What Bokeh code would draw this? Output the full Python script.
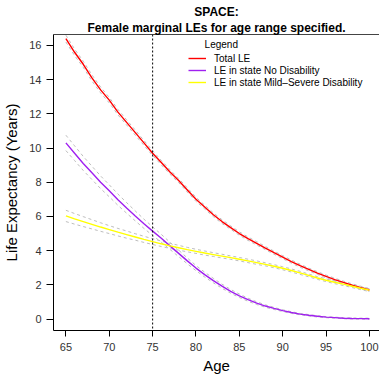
from bokeh.plotting import figure
from bokeh.models import (Range1d, FixedTicker, Span, Legend, LegendItem, Label,
                          Title, LinearAxis)
from bokeh.embed import file_html
from bokeh.resources import INLINE

ages = list(range(65, 101))

total_le = [16.4, 15.6, 14.9, 14.1, 13.4, 12.8, 12.1, 11.5, 10.9, 10.3,
            9.7, 9.15, 8.6, 8.1, 7.55, 7.0, 6.55, 6.1, 5.7, 5.35,
            5.0, 4.7, 4.43, 4.15, 3.88, 3.62, 3.36, 3.12, 2.9, 2.69,
            2.49, 2.31, 2.14, 1.98, 1.84, 1.7]
no_dis = [10.3, 9.7, 9.1, 8.55, 8.0, 7.5, 6.98, 6.5, 6.03, 5.57,
          5.14, 4.72, 4.28, 3.84, 3.4, 2.98, 2.6, 2.25, 1.92, 1.62,
          1.36, 1.13, 0.93, 0.76, 0.62, 0.49, 0.38, 0.29, 0.22, 0.16,
          0.11, 0.08, 0.05, 0.035, 0.025, 0.02]
mild_sev = [6.03, 5.86, 5.7, 5.54, 5.38, 5.23, 5.08, 4.94, 4.8, 4.66,
            4.53, 4.4, 4.28, 4.17, 4.06, 3.96, 3.86, 3.77, 3.68, 3.59,
            3.5, 3.4, 3.3, 3.2, 3.09, 2.97, 2.84, 2.7, 2.55, 2.4,
            2.27, 2.15, 2.04, 1.92, 1.8, 1.69]

total_hw = [0.2, 0.19, 0.18, 0.18, 0.17, 0.16, 0.16, 0.15, 0.15, 0.14,
            0.14, 0.13, 0.13, 0.12, 0.12, 0.12, 0.11, 0.11, 0.11, 0.1,
            0.1, 0.1, 0.1, 0.09, 0.09, 0.09, 0.09, 0.09, 0.08, 0.08,
            0.08, 0.08, 0.08, 0.08, 0.08, 0.08]
no_hw = [0.45, 0.43, 0.41, 0.39, 0.37, 0.35, 0.33, 0.31, 0.29, 0.27,
         0.25, 0.23, 0.21, 0.19, 0.17, 0.15, 0.14, 0.13, 0.12, 0.11,
         0.1, 0.09, 0.08, 0.07, 0.06, 0.05, 0.05, 0.04, 0.04, 0.04,
         0.03, 0.03, 0.03, 0.03, 0.03, 0.03]
mild_hw = [0.33, 0.31, 0.29, 0.27, 0.25, 0.23, 0.22, 0.21, 0.19, 0.18,
           0.17, 0.16, 0.15, 0.14, 0.13, 0.12, 0.12, 0.11, 0.11, 0.1,
           0.1, 0.1, 0.1, 0.09, 0.09, 0.09, 0.09, 0.09, 0.08, 0.08,
           0.08, 0.08, 0.08, 0.08, 0.08, 0.08]

series_names = ["Total LE", "LE in state No Disability", "LE in state Mild\u2013Severe Disability"]
series_colors = ["#FF0000", "#A020F0", "#FFFF00"]
x_ticks = [65, 70, 75, 80, 85, 90, 95, 100]
y_ticks = [0, 2, 4, 6, 8, 10, 12, 14, 16]
ref_age = 75

FONT = "Liberation Sans"

p = figure(frame_width=326, frame_height=296, output_backend="svg", toolbar_location=None,
           x_range=Range1d(63.57, 101.16), y_range=Range1d(-0.67, 16.64),
           min_border_left=50, min_border_right=0, min_border_top=34, min_border_bottom=45)
p.outline_line_color = None
p.xgrid.visible = False
p.ygrid.visible = False
p.background_fill_color = "white"

bottom_ax = p.below[0]
left_ax = p.left[0]

for ax in (bottom_ax, left_ax):
    ax.axis_line_color = "black"
    ax.major_tick_line_color = "black"
    ax.minor_tick_line_color = None
    ax.major_tick_out = 6
    ax.major_tick_in = 0
    ax.major_label_text_font = FONT
    ax.major_label_text_font_size = "11px"
    ax.major_label_text_color = "#333333"
    ax.axis_label_text_font = FONT
    ax.axis_label_text_font_size = "15px"
    ax.axis_label_text_font_style = "normal"
    ax.axis_label_text_color = "black"

bottom_ax.ticker = FixedTicker(ticks=x_ticks)
left_ax.ticker = FixedTicker(ticks=y_ticks)
bottom_ax.axis_label = "Age"
left_ax.axis_label = "Life Expectancy (Years)"
left_ax.major_label_orientation = "horizontal"
left_ax.major_tick_out = 7
bottom_ax.major_label_standoff = 6
bottom_ax.axis_label_standoff = 3
left_ax.major_label_standoff = 5
left_ax.axis_label_standoff = 6

# top border line (closest to the frame)
top_ax = LinearAxis(ticker=FixedTicker(ticks=[]), major_label_text_font_size="0px",
                    axis_line_color="#444444", major_tick_line_color=None,
                    minor_tick_line_color=None, major_label_standoff=0,
                    axis_label_standoff=0, major_tick_out=4, major_tick_in=0)
p.add_layout(top_ax, "above")

# titles
p.add_layout(Title(text="Female marginal LEs for age range specified.", align="center",
                   text_font=FONT, text_font_size="12px", text_font_style="bold",
                   text_color="black", standoff=0, offset=0), "above")
p.add_layout(Title(text="SPACE:", align="center", text_font=FONT, text_font_size="12px",
                   text_font_style="bold", text_color="black", standoff=0, offset=0), "above")

series_vals = [total_le, no_dis, mild_sev]
series_hw = [total_hw, no_hw, mild_hw]

for vals, hw in zip(series_vals, series_hw):
    lo = [v - h for v, h in zip(vals, hw)]
    hi = [v + h for v, h in zip(vals, hw)]
    p.line(ages, lo, line_color="#BEBEBE", line_width=1, line_dash="3 3")
    p.line(ages, hi, line_color="#BEBEBE", line_width=1, line_dash="3 3")

renderers = []
for vals, col in zip(series_vals, series_colors):
    r = p.line(ages, vals, line_color=col, line_width=1.4)
    renderers.append(r)

p.add_layout(Span(location=ref_age, dimension="height", line_color="black",
                  line_width=1, line_dash="2 2"))

legend = Legend(items=[LegendItem(label=n, renderers=[r]) for n, r in zip(series_names, renderers)],
                location=(135, 242), border_line_color=None, background_fill_alpha=0,
                padding=0, margin=0, spacing=0, glyph_width=18, glyph_height=12,
                label_height=12, label_standoff=8, label_text_font=FONT,
                label_text_font_size="10px", label_text_color="black")
p.add_layout(legend, "center")

p.add_layout(Label(x=80.99, y=16.05, text="Legend", text_font=FONT, text_font_size="10px",
                   text_color="black", text_baseline="middle", text_align="left"))

open("out.html", "w").write(file_html(p, INLINE))
